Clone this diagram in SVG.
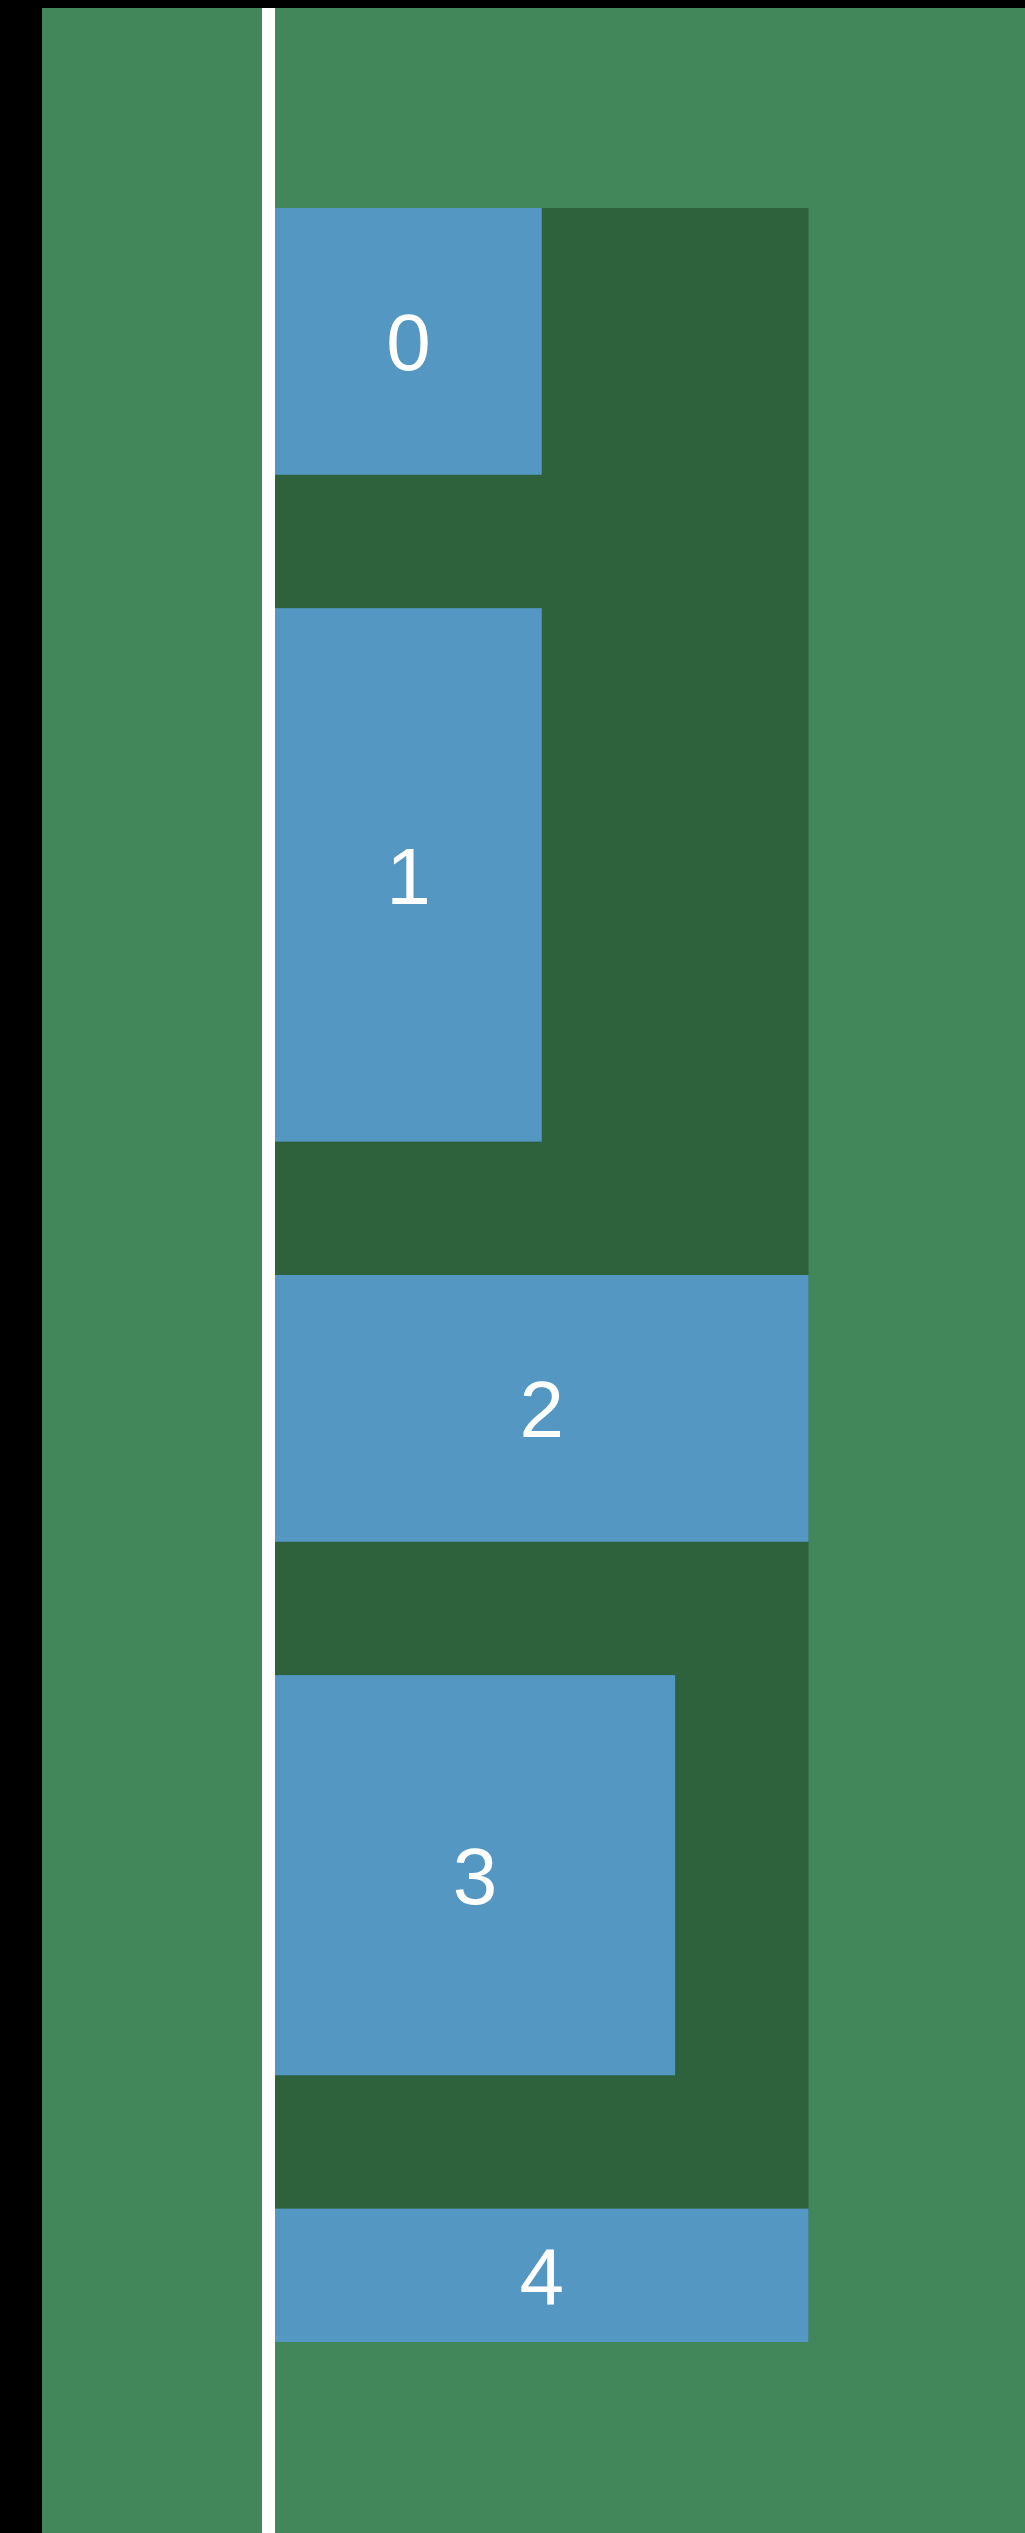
<svg xmlns="http://www.w3.org/2000/svg" width="1025" height="2533" viewBox="0 0 1025 2533">
<style>
.item{fill:#5397c2}
.lbl{fill:#ffffff;font-family:"Liberation Sans",Arial,sans-serif;font-size:80px;text-anchor:middle}
</style>
<rect x="0" y="0" width="1025" height="2533" fill="#000000"/>
<rect x="42" y="8" width="983" height="2525" fill="#42875a"/>
<rect x="262" y="8" width="13" height="2525" fill="#ffffff"/>
<g id="container">
<rect x="275" y="208" width="533.5" height="2134" fill="#2e623c"/>
</g>
<g id="node0">
<rect class="item" x="275" y="208" width="266.75" height="266.75"/>
<text class="lbl" x="408.4" y="370.4">0</text>
</g>
<g id="node1">
<rect class="item" x="275" y="608.125" width="266.75" height="533.5"/>
<text class="lbl" x="408.4" y="903.9">1</text>
</g>
<g id="node2">
<rect class="item" x="275" y="1275" width="533.5" height="266.75"/>
<text class="lbl" x="541.75" y="1437.4">2</text>
</g>
<g id="node3">
<rect class="item" x="275" y="1675.125" width="400.125" height="400.125"/>
<text class="lbl" x="475.1" y="1904.2">3</text>
</g>
<g id="node4">
<rect class="item" x="275" y="2208.625" width="533.5" height="133.375"/>
<text class="lbl" x="541.75" y="2304.3">4</text>
</g>
<g id="connectors"/>
</svg>
